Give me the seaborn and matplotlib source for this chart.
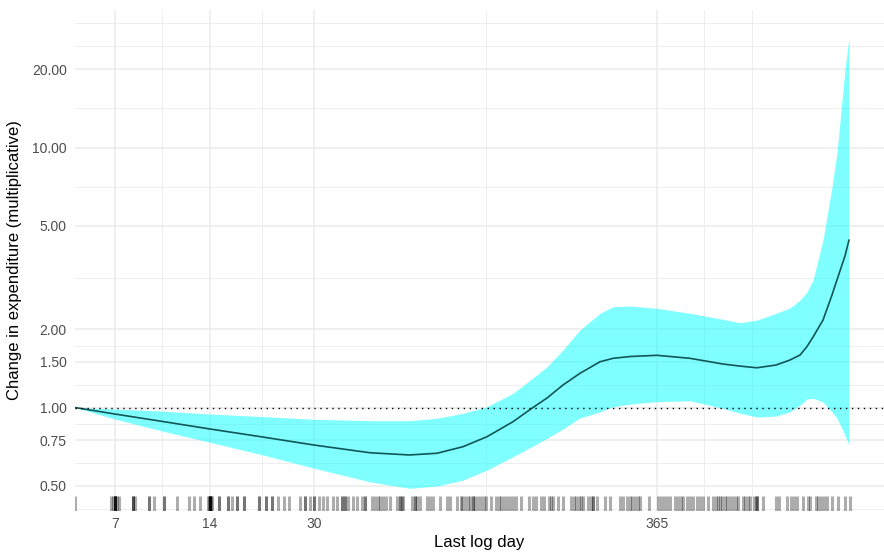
import numpy as np
import matplotlib
matplotlib.use("Agg")
import matplotlib.pyplot as plt
import seaborn as sns

# Fitted effect of last log day (x on log scale)
x_days = [5.23, 7, 9.9, 14, 20.6, 30, 45, 60, 73.4, 88.7, 105.6, 127.7, 147.7,
          163.7, 183.8, 208, 241, 265, 300, 365, 465, 591, 667, 757, 870, 963,
          1037, 1090, 1140, 1226, 1309, 1357, 1439, 1482]
fit = [1.0, 0.944, 0.884, 0.827, 0.770, 0.717, 0.670, 0.657, 0.667, 0.707,
       0.772, 0.882, 1.0, 1.088, 1.22, 1.353, 1.50, 1.546, 1.571, 1.588, 1.546,
       1.47, 1.444, 1.422, 1.457, 1.523, 1.592, 1.714, 1.867, 2.17, 2.709,
       3.093, 3.826, 4.41]
upper = [1.0, 0.987, 0.969, 0.944, 0.923, 0.901, 0.890, 0.890, 0.909, 0.950,
         1.007, 1.134, 1.299, 1.435, 1.664, 1.986, 2.303, 2.442, 2.457, 2.407,
         2.303, 2.184, 2.12, 2.17, 2.303, 2.414, 2.59, 2.78, 3.09, 4.41, 7.05,
         9.52, 19.9, 26.6]
lower = [1.0, 0.903, 0.812, 0.735, 0.657, 0.584, 0.518, 0.489, 0.499, 0.526,
         0.575, 0.647, 0.711, 0.761, 0.827, 0.911, 0.963, 1.007, 1.031, 1.053,
         1.062, 0.993, 0.952, 0.919, 0.927, 0.963, 1.022, 1.078, 1.085, 1.05,
         0.961, 0.911, 0.784, 0.718]

# Observed last log days (rug), repeated values draw darker
rug_days = [5.23,
            6.8, 6.9, 7, 7, 7, 7, 7, 7, 7.1, 7.2, 8, 8, 8, 8.1, 9, 9, 9.3, 10,
            10, 11, 12, 12.5, 13, 13.8, 13.9, 14, 14, 14, 14, 14, 14, 14.1,
            14.2, 15, 15, 16, 16, 16.5, 17, 17, 18, 18, 20, 20, 21, 21, 22, 22,
            23, 24, 25, 27, 28, 28, 29, 30, 30, 31, 32, 33, 34.3,
            35.3, 36.6, 36.6, 37.5, 37.5, 38.3, 39.7, 40.9, 42.3, 43.3, 43.3,
            45.6, 46.6, 47.6, 48.4, 49.5, 50.6, 52, 54.8, 56, 56, 56.9, 57.2,
            61.1, 62.4, 62.4, 63.3, 64.7, 68.1, 69.6, 71.2, 74.9, 78.8, 80.6,
            84.8, 88.1, 90,
            87.4, 92.1, 93.5, 95.6, 95.6, 97, 99.2, 100.8, 103, 104.6, 108.5,
            112.7, 115.3, 117, 119.6, 122.2, 124.9, 127.7, 130.5, 135.4, 143.5,
            147.7, 151, 156.6, 160, 166, 168.4, 171, 177.3, 183.9, 195, 199.3,
            202.3, 206.7, 209.8, 213, 221, 226, 229.5,
            228.9, 235.7, 249.8, 259.1, 278.6, 284.8, 293.4, 299.8, 304.2,
            310.8, 317.6, 322.4, 344.3, 367.5, 376, 384.4, 392.8, 401.3, 416.4,
            425.6, 435, 441.4, 454.6, 464.7, 475, 489, 499.8, 510.7, 529.9,
            549.5, 561.7, 569.9, 586.6,
            578, 600, 608, 622, 636, 650, 659, 684, 694, 709, 720, 741, 752,
            757, 757, 792, 870, 889, 943, 971, 993, 1014, 1060, 1099, 1115,
            1165, 1182, 1208, 1235, 1262, 1309, 1368, 1439, 1493]

x_breaks = [7, 14, 30, 365]
x_minor = [9.9, 20.5, 104.6, 516, 730]
y_breaks = [0.5, 0.75, 1.0, 1.5, 2.0, 5.0, 10.0, 20.0]
y_minor = [0.408, 0.612, 0.866, 1.225, 1.732, 3.162, 7.07, 14.14, 24.5, 30.0]

sns.set_theme(style="white")
plt.rcParams['font.family'] = ['Liberation Sans', 'DejaVu Sans']

fig = plt.figure(figsize=(8.84, 5.52), dpi=100)
ax = fig.add_axes([75 / 884, 41 / 552, 809 / 884, 501 / 552])
ax.set_xscale("log")
ax.set_yscale("log")
ax.set_xlim(5.23, 1913)
ax.set_ylim(0.40, 33.8)

grid = "#EBEBEB"
for v in x_breaks:
    ax.axvline(v, color=grid, lw=1.1, zorder=0)
for v in x_minor:
    ax.axvline(v, color=grid, lw=0.6, zorder=0)
for v in y_breaks:
    ax.axhline(v, color=grid, lw=1.1, zorder=0)
for v in y_minor:
    ax.axhline(v, color=grid, lw=0.6, zorder=0)

ax.fill_between(x_days, lower, upper, color="#00FFFF", alpha=0.5,
                linewidth=0, zorder=1)
sns.lineplot(x=x_days, y=fit, ax=ax, color="#125656", lw=1.2, zorder=2)
ax.axhline(1.0, color="black", lw=1.0, linestyle=(0, (1, 3.3)), zorder=3)
sns.rugplot(x=rug_days, ax=ax, height=0.03, color="black", alpha=0.32,
            linewidth=2.2, expand_margins=False)

ax.set_xticks(x_breaks)
ax.set_xticklabels([str(v) for v in x_breaks])
ax.set_xticks([], minor=True)
ax.set_yticks(y_breaks)
ax.set_yticklabels([f"{v:.2f}" for v in y_breaks])
ax.set_yticks([], minor=True)
ax.tick_params(length=0, labelsize=10, labelcolor="#4D4D4D")
ax.tick_params(axis="y", pad=6)
ax.tick_params(axis="x", pad=4)
for s in ax.spines.values():
    s.set_visible(False)

ax.set_xlabel("Last log day", fontsize=12, color="black", labelpad=3)
ax.set_ylabel("Change in expenditure (multiplicative)", fontsize=12,
              color="black", labelpad=7)

fig.savefig("out.png", dpi=100)
